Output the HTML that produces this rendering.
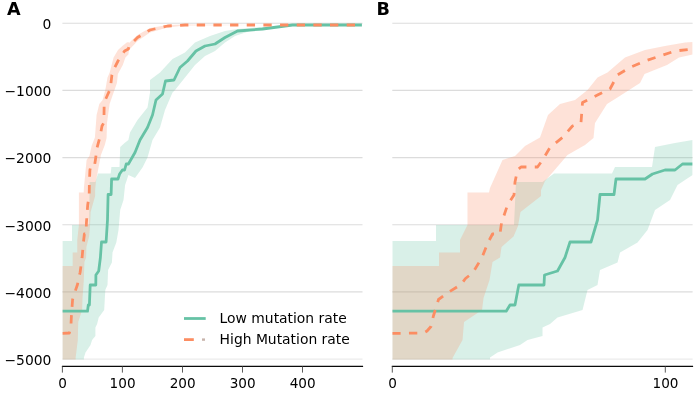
<!DOCTYPE html>
<html><head><meta charset="utf-8"><title>Mutation rate</title>
<style>html,body{margin:0;padding:0;background:#fff;overflow:hidden}svg{display:block;will-change:transform}</style></head>
<body>
<svg width="700" height="400" viewBox="0 0 700 400" font-family="'DejaVu Sans', 'Liberation Sans', sans-serif">
<rect width="700" height="400" fill="#ffffff"/>
<defs></defs>
<clipPath id="clip1"><rect x="62.4" y="6" width="300.1" height="353.5"/></clipPath>
<line x1="62.4" x2="362.5" y1="23.2" y2="23.2" stroke="#dcdcdc" stroke-width="1.1"/>
<line x1="62.4" x2="362.5" y1="90.4" y2="90.4" stroke="#dcdcdc" stroke-width="1.1"/>
<line x1="62.4" x2="362.5" y1="157.6" y2="157.6" stroke="#dcdcdc" stroke-width="1.1"/>
<line x1="62.4" x2="362.5" y1="224.7" y2="224.7" stroke="#dcdcdc" stroke-width="1.1"/>
<line x1="62.4" x2="362.5" y1="291.9" y2="291.9" stroke="#dcdcdc" stroke-width="1.1"/>
<line x1="62.4" x2="362.5" y1="359.1" y2="359.1" stroke="#ebebeb" stroke-width="1.1"/>
<g clip-path="url(#clip1)">
<polygon points="62.4,241.0 72.0,241.0 72.0,225.0 89.2,225.0 89.6,182.0 95.4,182.0 98.0,173.5 110.7,173.5 111.4,167.0 119.5,167.0 120.2,147.0 124.6,143.0 128.4,140.0 130.0,132.5 137.5,120.0 147.5,107.5 150.0,92.5 150.0,80.0 160.0,72.5 172.5,59.0 185.0,52.5 195.0,42.5 210.0,36.0 225.0,31.0 237.5,29.0 250.0,28.0 292.5,25.0 361.9,25.0 361.9,25.0 330.0,25.0 292.5,25.5 270.0,28.0 250.0,31.0 235.0,36.0 225.0,42.5 215.0,51.0 205.0,56.0 195.0,65.0 185.0,77.5 175.0,90.0 172.5,92.5 165.0,110.0 160.0,127.5 152.5,140.0 147.5,157.5 142.5,167.5 135.0,178.0 128.4,175.0 126.8,180.0 125.1,185.0 123.5,200.0 120.2,210.0 118.5,230.0 116.3,242.5 112.5,252.5 111.9,262.5 108.1,270.0 107.5,285.0 105.3,290.0 104.2,310.0 98.7,317.5 97.1,324.0 95.4,327.5 95.4,336.0 92.1,340.0 90.5,345.0 85.5,352.5 83.9,357.5 83.9,380.0 62.4,380.0" fill="#66c2a5" fill-opacity="0.25"/>
<polygon points="62.4,266.0 72.7,266.0 72.7,252.5 77.3,252.5 77.3,240.0 78.9,225.0 78.9,192.5 83.7,192.5 83.9,188.0 86.6,160.0 89.4,156.0 91.6,146.0 94.9,137.5 96.6,115.0 99.3,104.0 102.6,100.0 105.3,90.0 107.5,77.5 109.7,72.5 113.6,57.5 118.0,50.0 122.4,46.0 126.8,42.5 128.4,42.0 129.0,43.0 137.5,35.0 150.0,28.0 167.5,25.0 185.0,24.5 275.0,25.0 361.9,25.0 361.9,25.0 275.0,25.0 185.0,25.5 167.5,27.5 150.0,32.5 137.5,41.0 129.0,50.0 128.4,54.5 125.4,57.5 122.8,65.0 117.9,74.0 116.9,83.0 112.2,96.5 109.6,104.0 107.0,123.0 106.6,138.0 104.8,145.0 100.9,155.0 97.6,172.5 96.0,181.0 95.1,190.0 95.1,196.0 90.6,212.0 90.0,226.0 89.1,236.5 86.4,247.0 86.1,257.5 84.4,262.0 83.8,280.0 82.5,298.0 82.1,310.0 78.2,322.0 77.8,340.0 75.6,358.0 75.6,380.0 62.4,380.0" fill="#fc8d62" fill-opacity="0.25"/>
<polyline points="62.4,311.2 87.5,311.2 88.3,305.0 89.4,305.0 90.2,285.0 95.8,285.0 95.9,275.0 98.7,271.0 100.4,257.5 101.5,242.0 106.1,242.0 107.5,220.0 108.1,194.5 111.1,194.5 111.6,179.0 118.0,179.0 119.6,174.0 122.4,170.0 124.6,170.0 126.2,164.0 128.4,164.0 135.0,152.5 140.0,140.0 147.5,127.5 152.5,115.0 156.0,100.0 162.5,94.0 165.5,81.0 174.0,80.0 180.0,67.5 187.5,61.0 196.0,51.0 205.0,46.0 215.0,44.0 225.0,37.5 237.5,31.0 262.5,29.0 292.5,25.0 330.0,25.0 361.9,25.0" fill="none" stroke="#66c2a5" stroke-width="2.78" stroke-linejoin="round"/>
<polyline points="62.4,333.4 69.3,333.0 70.0,331.0 70.9,326.5 71.4,316.0 72.6,299.5 74.9,292.0 77.5,284.5 78.5,278.5 80.1,272.5 82.1,257.5 83.4,242.5 84.4,234.0 86.1,234.0 86.4,223.0 87.7,205.0 89.2,195.0 89.4,182.0 89.9,170.0 90.7,167.0 94.3,167.0 95.4,160.0 97.1,147.5 99.8,137.5 102.0,126.0 103.9,122.5 104.2,102.5 107.5,95.0 110.3,89.0 111.9,75.0 114.7,67.5 118.0,61.0 121.3,56.0 124.6,51.0 128.4,49.0 129.0,46.0 137.5,37.5 150.0,30.0 167.5,26.0 185.0,25.0 275.0,25.0 361.9,25.0" fill="none" stroke="#fc8d62" stroke-width="2.78" stroke-dasharray="8.33 8.33" stroke-linejoin="round"/>
</g>
<clipPath id="clip2"><rect x="392.3" y="6" width="300.3" height="353.5"/></clipPath>
<line x1="392.3" x2="692.6" y1="23.2" y2="23.2" stroke="#dcdcdc" stroke-width="1.1"/>
<line x1="392.3" x2="692.6" y1="90.4" y2="90.4" stroke="#dcdcdc" stroke-width="1.1"/>
<line x1="392.3" x2="692.6" y1="157.6" y2="157.6" stroke="#dcdcdc" stroke-width="1.1"/>
<line x1="392.3" x2="692.6" y1="224.7" y2="224.7" stroke="#dcdcdc" stroke-width="1.1"/>
<line x1="392.3" x2="692.6" y1="291.9" y2="291.9" stroke="#dcdcdc" stroke-width="1.1"/>
<line x1="392.3" x2="692.6" y1="359.1" y2="359.1" stroke="#ebebeb" stroke-width="1.1"/>
<g clip-path="url(#clip2)">
<polygon points="392.3,241.0 436.0,241.0 436.0,225.0 514.0,225.0 516.0,182.0 542.5,182.0 554.0,173.5 612.0,173.5 615.0,167.0 652.0,167.0 655.0,147.0 675.0,143.0 692.6,140.0 692.6,175.0 685.0,180.0 677.5,185.0 670.0,200.0 655.0,210.0 647.5,230.0 637.5,242.5 620.0,252.5 617.5,262.5 600.0,270.0 597.5,285.0 587.5,290.0 582.5,310.0 557.5,317.5 550.0,324.0 542.5,327.5 542.5,336.0 527.5,340.0 520.0,345.0 497.5,352.5 490.0,357.5 490.0,380.0 392.3,380.0" fill="#66c2a5" fill-opacity="0.25"/>
<polygon points="392.3,266.0 439.0,266.0 439.0,252.5 460.0,252.5 460.0,240.0 467.5,225.0 467.5,192.5 489.0,192.5 490.0,188.0 502.5,160.0 515.0,156.0 525.0,146.0 540.0,137.5 548.0,115.0 560.0,104.0 575.0,100.0 587.5,90.0 597.5,77.5 607.5,72.5 625.0,57.5 645.0,50.0 665.0,46.0 685.0,42.5 692.6,42.0 692.6,54.5 679.0,57.5 667.0,65.0 644.5,74.0 640.0,83.0 619.0,96.5 607.0,104.0 595.0,123.0 593.5,138.0 585.0,145.0 567.5,155.0 552.5,172.5 545.0,181.0 541.0,190.0 541.0,196.0 520.5,212.0 518.0,226.0 513.5,236.5 501.5,247.0 500.0,257.5 492.5,262.0 489.5,280.0 483.5,298.0 482.0,310.0 464.0,322.0 462.5,340.0 452.5,358.0 452.5,380.0 392.3,380.0" fill="#fc8d62" fill-opacity="0.25"/>
<polyline points="392.3,311.2 506.2,311.2 510.0,305.0 515.0,305.0 518.8,285.0 544.0,285.0 544.5,275.0 557.5,271.0 565.0,257.5 570.0,242.0 591.0,242.0 597.5,220.0 600.0,194.5 614.0,194.5 616.0,179.0 645.0,179.0 652.5,174.0 665.0,170.0 675.0,170.0 682.5,164.0 692.6,164.0" fill="none" stroke="#66c2a5" stroke-width="2.78" stroke-linejoin="round"/>
<polyline points="392.3,333.4 423.5,333.0 427.0,331.0 431.0,326.5 433.4,316.0 438.5,299.5 449.0,292.0 461.0,284.5 465.5,278.5 473.0,272.5 482.0,257.5 488.0,242.5 492.5,234.0 500.0,234.0 501.5,223.0 507.5,205.0 514.0,195.0 515.0,182.0 517.5,170.0 521.0,167.0 537.5,167.0 542.5,160.0 550.0,147.5 562.5,137.5 572.5,126.0 581.0,122.5 582.5,102.5 597.5,95.0 610.0,89.0 617.5,75.0 630.0,67.5 645.0,61.0 660.0,56.0 675.0,51.0 692.6,49.0" fill="none" stroke="#fc8d62" stroke-width="2.78" stroke-dasharray="8.33 8.33" stroke-linejoin="round"/>
</g>
<g fill="#000000" style="filter:opacity(1)">
<line x1="61.9" x2="363.1" y1="366.35" y2="366.35" stroke="#0a0a0a" stroke-width="1.3"/>
<line x1="62.4" x2="62.4" y1="366.35" y2="372.6" stroke="#4a4a4a" stroke-width="0.9"/>
<text x="62.6" y="388.0" font-size="13.6" text-anchor="middle">0</text>
<line x1="122.4" x2="122.4" y1="366.35" y2="372.6" stroke="#4a4a4a" stroke-width="0.9"/>
<text x="122.6" y="388.0" font-size="13.6" text-anchor="middle">100</text>
<line x1="182.5" x2="182.5" y1="366.35" y2="372.6" stroke="#4a4a4a" stroke-width="0.9"/>
<text x="182.7" y="388.0" font-size="13.6" text-anchor="middle">200</text>
<line x1="242.5" x2="242.5" y1="366.35" y2="372.6" stroke="#4a4a4a" stroke-width="0.9"/>
<text x="242.7" y="388.0" font-size="13.6" text-anchor="middle">300</text>
<line x1="302.5" x2="302.5" y1="366.35" y2="372.6" stroke="#4a4a4a" stroke-width="0.9"/>
<text x="302.7" y="388.0" font-size="13.6" text-anchor="middle">400</text>
<line x1="391.8" x2="693.1" y1="366.35" y2="366.35" stroke="#0a0a0a" stroke-width="1.3"/>
<line x1="392.3" x2="392.3" y1="366.35" y2="372.6" stroke="#4a4a4a" stroke-width="0.9"/>
<text x="392.5" y="388.0" font-size="13.6" text-anchor="middle">0</text>
<line x1="665.3" x2="665.3" y1="366.35" y2="372.6" stroke="#4a4a4a" stroke-width="0.9"/>
<text x="665.5" y="388.0" font-size="13.6" text-anchor="middle">100</text>
<text x="51.4" y="29.0" font-size="13.89" text-anchor="end">0</text>
<text x="51.4" y="96.2" font-size="13.89" text-anchor="end">−1000</text>
<text x="51.4" y="163.4" font-size="13.89" text-anchor="end">−2000</text>
<text x="51.4" y="230.5" font-size="13.89" text-anchor="end">−3000</text>
<text x="51.4" y="297.7" font-size="13.89" text-anchor="end">−4000</text>
<text x="51.4" y="364.9" font-size="13.89" text-anchor="end">−5000</text>
<text x="7.0" y="14.6" font-size="17.6" font-weight="bold" fill="#000">A</text>
<text x="376.6" y="14.6" font-size="17.6" font-weight="bold" fill="#000">B</text>
<line x1="184" x2="205.7" y1="318.5" y2="318.5" stroke="#66c2a5" stroke-width="2.78"/>
<line x1="184" x2="193.8" y1="339.6" y2="339.6" stroke="#fc8d62" stroke-width="2.78"/>
<line x1="202" x2="205" y1="339.6" y2="339.6" stroke="#c8b4ac" stroke-width="2.4"/>
<text x="219.6" y="323.4" font-size="13.89">Low mutation rate</text>
<text x="219.6" y="344.4" font-size="13.89">High Mutation rate</text>
</g>
</svg>
</body></html>
